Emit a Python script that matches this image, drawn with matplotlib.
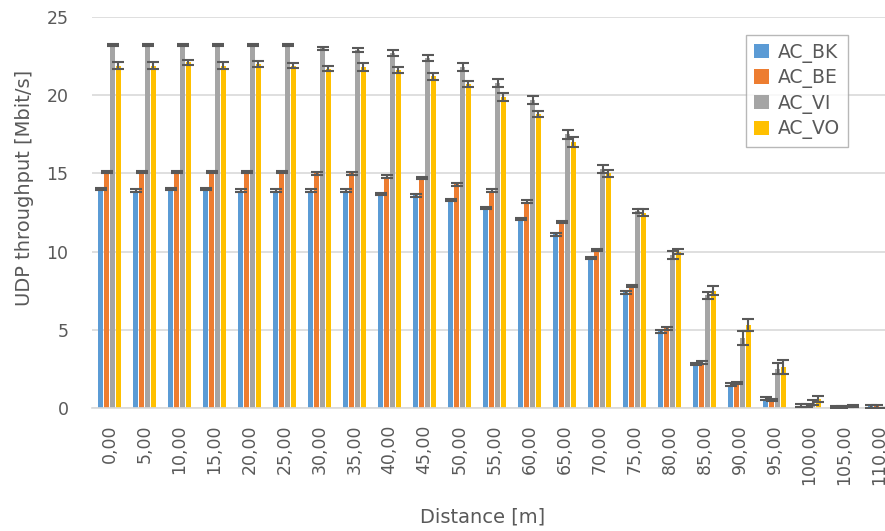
import numpy as np
import matplotlib.pyplot as plt

distance = ['0,00', '5,00', '10,00', '15,00', '20,00', '25,00', '30,00', '35,00',
            '40,00', '45,00', '50,00', '55,00', '60,00', '65,00', '70,00', '75,00',
            '80,00', '85,00', '90,00', '95,00', '100,00', '105,00', '110,00']

ac_bk = [14.0, 13.9, 14.0, 14.0, 13.9, 13.9, 13.9, 13.9, 13.7, 13.6, 13.3, 12.8,
         12.1, 11.1, 9.6, 7.4, 4.9, 2.8, 1.5, 0.6, 0.15, 0.05, 0.1]
ac_be = [15.1, 15.1, 15.1, 15.1, 15.1, 15.1, 15.0, 15.0, 14.8, 14.7, 14.3, 13.9,
         13.2, 11.9, 10.1, 7.8, 5.1, 2.9, 1.6, 0.5, 0.15, 0.05, 0.1]
ac_vi = [23.2, 23.2, 23.2, 23.2, 23.2, 23.2, 23.0, 22.9, 22.7, 22.4, 21.8, 20.8,
         19.7, 17.5, 15.3, 12.6, 9.8, 7.2, 4.5, 2.5, 0.35, 0.1, 0.0]
ac_vo = [21.9, 21.9, 22.1, 21.9, 22.0, 21.9, 21.7, 21.8, 21.6, 21.2, 20.7, 19.9,
         18.8, 17.0, 15.0, 12.5, 10.0, 7.5, 5.3, 2.6, 0.6, 0.12, 0.0]

err_bk = [0.08] * 23
err_be = [0.08] * 23
err_vi = [0.05, 0.05, 0.05, 0.05, 0.05, 0.05, 0.1, 0.15, 0.2, 0.2, 0.25, 0.25,
          0.25, 0.3, 0.25, 0.15, 0.25, 0.25, 0.45, 0.35, 0.15, 0.05, 0.0]
err_vo = [0.2, 0.2, 0.15, 0.25, 0.2, 0.15, 0.15, 0.25, 0.2, 0.2, 0.2, 0.25,
          0.2, 0.3, 0.2, 0.2, 0.15, 0.3, 0.4, 0.45, 0.2, 0.05, 0.0]

series = [('AC_BK', ac_bk, err_bk, '#5B9BD5'),
          ('AC_BE', ac_be, err_be, '#ED7D31'),
          ('AC_VI', ac_vi, err_vi, '#A5A5A5'),
          ('AC_VO', ac_vo, err_vo, '#FFC000')]

txt = '#595959'
fig = plt.figure(figsize=(8.85, 5.31), dpi=100)
ax = fig.add_axes([0.104, 0.2316, 0.9096, 0.7363])

x = np.arange(len(distance))
w = 0.13
for i, (name, vals, err, col) in enumerate(series):
    ax.bar(x + (i - 1.5) * 0.17, vals, w, color=col, label=name, zorder=2,
           yerr=err, error_kw=dict(ecolor='#595959', elinewidth=1.5,
                                   capsize=4, capthick=1.5, zorder=3))

ax.set_xlim(-0.5, 22.5)
ax.set_ylim(0, 25)
ax.set_yticks([0, 5, 10, 15, 20, 25])
ax.set_xticks(x)
ax.set_xticklabels(distance, rotation=90)
ax.tick_params(axis='both', length=0, labelsize=12.5, colors=txt)
ax.tick_params(axis='x', pad=12)
ax.tick_params(axis='y', pad=17)
ax.grid(axis='y', color='#D9D9D9', linewidth=1.2, zorder=0)
ax.set_axisbelow(True)
for s in ['top', 'right', 'left']:
    ax.spines[s].set_visible(False)
ax.spines['bottom'].set_color('#D9D9D9')
ax.spines['bottom'].set_linewidth(1.2)

fig.text(25 / 885, 1 - 188 / 531, 'UDP throughput [Mbit/s]', fontsize=14,
         color=txt, rotation=90, ha='center', va='center')
fig.text(483 / 885, 1 - 517 / 531, 'Distance [m]', fontsize=14, color=txt,
         ha='center', va='center')

leg = ax.legend(loc='upper right', bbox_to_anchor=(0.958, 0.934),
                bbox_transform=fig.transFigure, fontsize=13.5, frameon=True,
                fancybox=False, edgecolor='#A6A6A6', handlelength=0.8,
                handleheight=0.8, handletextpad=0.5, borderaxespad=0,
                labelspacing=0.3)
for t in leg.get_texts():
    t.set_color(txt)

fig.savefig('out.png', dpi=100)
